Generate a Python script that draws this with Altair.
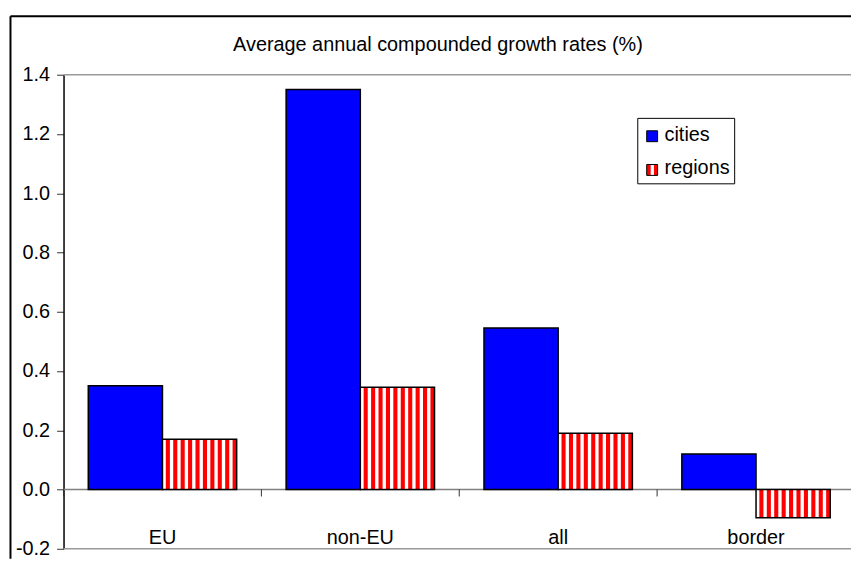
import altair as alt
import pandas as pd

# ---- data ----
CATEGORIES = ["EU", "non-EU", "all", "border"]
CITIES = [0.35, 1.35, 0.545, 0.12]
REGIONS = [0.17, 0.345, 0.19, -0.095]
SERIES = ["cities", "regions"]
TITLE = "Average annual compounded growth rates (%)"
Y_TICKS = [-0.2, 0.0, 0.2, 0.4, 0.6, 0.8, 1.0, 1.2, 1.4]
Y_DOMAIN = [-0.2, 1.4]
X_DOMAIN = [0, 3.98]
N_STRIPES = 10

FONT = "Liberation Sans"
W, H = 794, 478
BLUE = "#0000FF"
RED = "#FF0000"

rows = []
for i, c in enumerate(CATEGORIES):
    rows.append({"category": c, "idx": i, "series": SERIES[0], "value": CITIES[i]})
    rows.append({"category": c, "idx": i, "series": SERIES[1], "value": REGIONS[i]})
df = pd.DataFrame(rows)
cat_df = pd.DataFrame({"category": CATEGORIES, "idx": list(range(len(CATEGORIES)))})
one = pd.DataFrame({"a": [0]})

xs = alt.Scale(domain=X_DOMAIN, nice=False, zero=False)
ys = alt.Scale(domain=Y_DOMAIN, nice=False, zero=False)
yaxis = alt.Axis(
    values=Y_TICKS,
    labelExpr="(datum.value < 0 ? '-' : '') + format(abs(datum.value), '.1f')",
    title=None, grid=False,
    domainColor="black", domainWidth=1.5,
    tickColor="#333333", tickSize=7, tickWidth=1,
    labelFont=FONT, labelFontSize=20, labelColor="black", labelPadding=7,
)


def Y(field):
    return alt.Y(field, scale=ys, axis=yaxis)


def X(field):
    return alt.X(field, scale=xs, axis=None)


base = alt.Chart(df).transform_calculate(
    x0="datum.idx + 0.125 + (datum.series === 'regions' ? 0.375 : 0)",
    x1="datum.idx + 0.125 + (datum.series === 'regions' ? 0.75 : 0.375)",
)

cities = base.transform_filter("datum.series === 'cities'").mark_rect(
    fill=BLUE, stroke="black", strokeWidth=1.5
).encode(x=X("x0:Q"), x2="x1:Q", y=Y("value:Q"), y2=alt.datum(0))

regions_fill = base.transform_filter("datum.series === 'regions'").mark_rect(
    fill=RED, strokeWidth=0
).encode(x=X("x0:Q"), x2="x1:Q", y=Y("value:Q"), y2=alt.datum(0))

stripes = base.transform_filter("datum.series === 'regions'").transform_calculate(
    k=f"sequence(0, {N_STRIPES})"
).transform_flatten(["k"]).transform_calculate(
    sx0=f"datum.x0 + datum.k * 0.375 / {N_STRIPES}",
    sx1=f"datum.x0 + (datum.k + 0.45) * 0.375 / {N_STRIPES}",
).mark_rect(fill="white", strokeWidth=0).encode(
    x=X("sx0:Q"), x2="sx1:Q", y=Y("value:Q"), y2=alt.datum(0)
)

regions_outline = base.transform_filter("datum.series === 'regions'").mark_rect(
    fillOpacity=0, stroke="black", strokeWidth=1.5
).encode(x=X("x0:Q"), x2="x1:Q", y=Y("value:Q"), y2=alt.datum(0))

# plot-area lines
zero_line = alt.Chart(pd.DataFrame({"value": [0.0]})).mark_rule(
    color="#808080", strokeWidth=1.5
).encode(y=Y("value:Q"))
edge_lines = alt.Chart(pd.DataFrame({"value": Y_DOMAIN})).mark_rule(
    color="#999999", strokeWidth=1.5
).encode(y=Y("value:Q"))

x_ticks = alt.Chart(cat_df).mark_rule(color="#333333", strokeWidth=1, y2Offset=7).encode(
    x=X("idx:Q"), y=alt.datum(0), y2=alt.datum(0)
)

cat_labels = alt.Chart(cat_df).transform_calculate(cx="datum.idx + 0.5").mark_text(
    font=FONT, fontSize=20, color="black", align="center", baseline="middle"
).encode(x=X("cx:Q"), y=alt.value(467), text="category:N")

title = alt.Chart(pd.DataFrame({"t": [TITLE]})).mark_text(
    font=FONT, fontSize=20, color="black", align="center", baseline="alphabetic"
).encode(x=alt.value(377.5), y=alt.value(-24.3), text="t:N")

# outer frame (top and left edges visible)
frame_top = alt.Chart(one).mark_rule(color="black", strokeWidth=2).encode(
    x=alt.value(-53.5), x2=alt.value(W), y=alt.value(-59)
)
frame_left = alt.Chart(one).mark_rule(color="black", strokeWidth=2).encode(
    x=alt.value(-53.5), y=alt.value(-59), y2=alt.value(H + 10)
)

# legend
leg_box = alt.Chart(one).mark_rect(fill="white", stroke="black", strokeWidth=1).encode(
    x=alt.value(579), x2=alt.value(676.7), y=alt.value(44), y2=alt.value(110)
)
leg_c = alt.Chart(one).mark_rect(fill=BLUE, stroke="black", strokeWidth=1).encode(
    x=alt.value(588), x2=alt.value(599), y=alt.value(56.5), y2=alt.value(67.5)
)
leg_r = alt.Chart(one).mark_rect(fill=RED, strokeWidth=0).encode(
    x=alt.value(588), x2=alt.value(599), y=alt.value(90.5), y2=alt.value(101.5)
)
leg_r_w = alt.Chart(one).mark_rect(fill="white", strokeWidth=0).encode(
    x=alt.value(592), x2=alt.value(595.3), y=alt.value(90.5), y2=alt.value(101.5)
)
leg_r_o = alt.Chart(one).mark_rect(fillOpacity=0, stroke="black", strokeWidth=1).encode(
    x=alt.value(588), x2=alt.value(599), y=alt.value(90.5), y2=alt.value(101.5)
)
leg_t1 = alt.Chart(pd.DataFrame({"t": [SERIES[0]]})).mark_text(
    font=FONT, fontSize=20, color="black", align="left", baseline="alphabetic"
).encode(x=alt.value(606), y=alt.value(67), text="t:N")
leg_t2 = alt.Chart(pd.DataFrame({"t": [SERIES[1]]})).mark_text(
    font=FONT, fontSize=20, color="black", align="left", baseline="alphabetic"
).encode(x=alt.value(606), y=alt.value(100.3), text="t:N")

chart = alt.layer(
    frame_top, frame_left, edge_lines, zero_line,
    cities, regions_fill, stripes, regions_outline,
    x_ticks, cat_labels, title,
    leg_box, leg_c, leg_r, leg_r_w, leg_r_o, leg_t1, leg_t2,
).properties(
    width=W, height=H,
    padding={"left": 56, "top": 65, "right": 0, "bottom": 8},
    autosize=alt.AutoSizeParams(type="none"),
    background="white",
).configure_view(stroke=None)

chart.save("out.html", embed_options={"renderer": "svg", "actions": False})
